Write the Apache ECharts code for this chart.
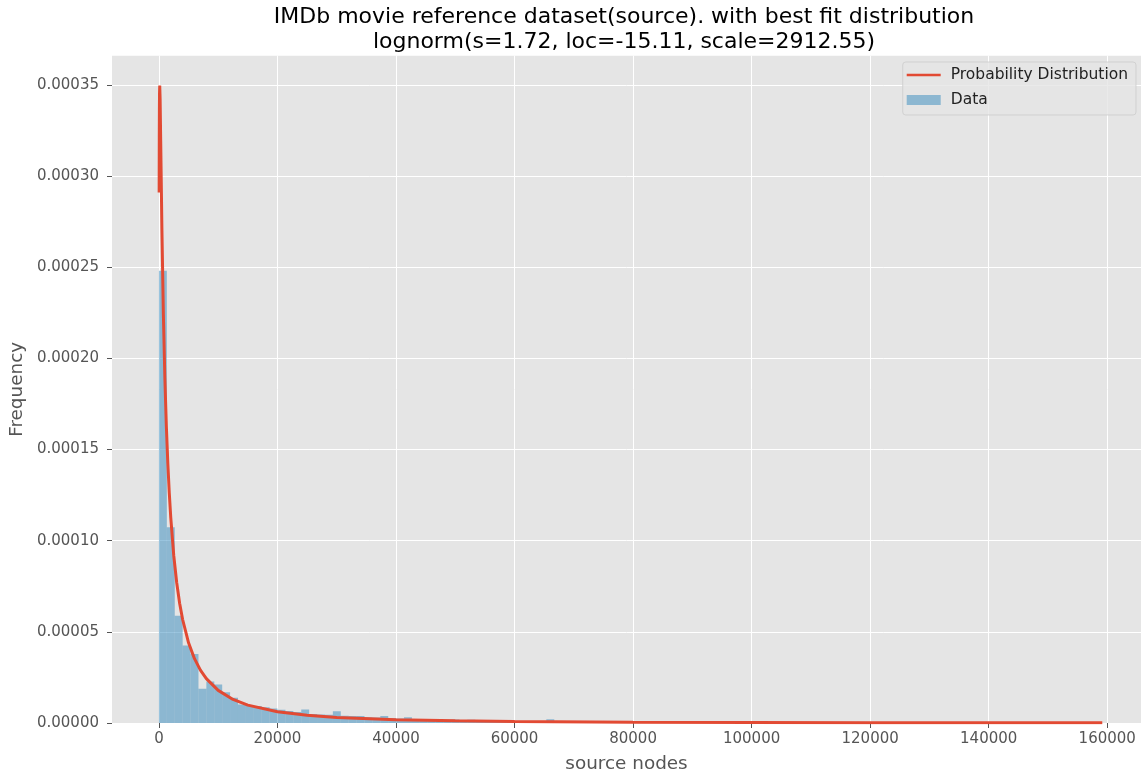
<!DOCTYPE html>
<html><head><meta charset="utf-8">
<script src="https://cdn.jsdelivr.net/npm/echarts@6/dist/echarts.min.js"></script>
<style>html,body{margin:0;padding:0;background:#fff}#c{width:1141px;height:778px}</style>
</head><body><div id="c"></div>
<script>
// ---- data ----
const titleLines = ['IMDb movie reference dataset(source). with best fit distribution',
                    'lognorm(s=1.72, loc=-15.11, scale=2912.55)'];
const binStart = 0;
const binWidth = 1334;
const histValues = [
  0.000248, 0.0001073, 0.0000588, 0.0000425, 0.0000378, 0.0000188, 0.0000228, 0.0000211, 0.0000169, 0.0000139,
  0.0000101, 0.0000096, 0.0000093, 0.0000086, 0.0000079, 0.0000072, 0.0000066, 0.0000061, 0.0000074, 0.0000050,
  0.0000047, 0.0000045, 0.0000064, 0.0000040, 0.0000039, 0.0000038, 0.0000032, 0.0000030, 0.0000038, 0.0000026,
  0.0000025, 0.0000031, 0.0000021, 0.0000020, 0.0000021, 0.0000019, 0.0000018, 0.0000019, 0.0000017, 0.0000018,
  0.0000016, 0.0000017, 0.0000012, 0.0000011, 0.0000012, 0.0000010, 0.0000011, 0.0000009, 0.0000008, 0.0000020
];
const pdfX = [38, 60, 80, 100, 136, 200, 300, 500, 750, 1000, 1250, 1500, 1750, 2000, 2500, 3000, 3500, 4000,
  5000, 6000, 7000, 8000, 10000, 12500, 15000, 20000, 25000, 30000, 40000, 50000, 60000, 80000, 100000,
  120000, 140000, 159165];
const pdfY = [0.000291, 0.0003218, 0.000337, 0.0003452, 0.0003496, 0.0003423, 0.0003191, 0.0002712, 0.0002241,
  0.0001894, 0.0001630, 0.0001424, 0.0001260, 0.0001125, 0.00009189, 0.00007691, 0.00006559, 0.00005677,
  0.00004400, 0.00003528, 0.00002902, 0.00002434, 0.00001790, 0.00001294, 0.000009805, 0.000006185,
  0.000004244, 0.000003081, 0.000001816, 0.000001183, 0.0000008226, 0.0000004534, 0.0000002802,
  0.0000001867, 0.0000001313, 0.0000000974];
const xTicks = [0, 20000, 40000, 60000, 80000, 100000, 120000, 140000, 160000];
const yTicks = [0, 0.00005, 0.0001, 0.00015, 0.0002, 0.00025, 0.0003, 0.00035];
const seriesNames = ['Probability Distribution', 'Data'];
const axisNames = {x: 'source nodes', y: 'Frequency'};

// ---- chart ----
const FONT = 'DejaVu Sans';
const barColor = 'rgba(52,138,189,0.5)';
const lineColor = '#E24A33';
const histData = histValues.map((v, i) => [binStart + i * binWidth, binStart + (i + 1) * binWidth, v]);
const lineData = pdfX.map((x, i) => [x, pdfY[i]]);

const chart = echarts.init(document.getElementById('c'), null, {renderer: 'canvas'});
chart.setOption({
  animation: false,
  backgroundColor: '#ffffff',
  textStyle: {fontFamily: FONT},
  graphic: [{
    type: 'text', x: 624, y: 4.5, z: 100,
    style: {text: titleLines.join('\n'), font: '22px "DejaVu Sans"', fill: '#000', textAlign: 'center',
            textVerticalAlign: 'top', lineHeight: 25}
  }],
  grid: {left: 112, right: 0, top: 55.7, bottom: 55, show: true, backgroundColor: '#E5E5E5', borderWidth: 0, containLabel: false},
  legend: {
    orient: 'vertical', right: 5, top: 62,
    padding: [5, 8, 7, 4], itemGap: 9, itemWidth: 34, itemHeight: 10,
    backgroundColor: 'rgba(229,229,229,0.8)', borderColor: 'rgba(204,204,204,0.8)', borderWidth: 1, borderRadius: 3,
    textStyle: {fontFamily: FONT, fontSize: 15.5, color: '#222', padding: [0, 0, 0, 5]},
    data: [
      {name: seriesNames[0], icon: 'path://M0,0H100V8H0Z', itemStyle: {color: lineColor}},
      {name: seriesNames[1], icon: 'rect', itemStyle: {color: barColor}}
    ]
  },
  xAxis: {
    type: 'value', min: -7918, max: 165700, interval: 20000,
    name: axisNames.x, nameLocation: 'middle', nameGap: 32,
    nameTextStyle: {fontFamily: FONT, fontSize: 18.4, color: '#555'},
    axisLine: {show: false, onZero: false},
    axisTick: {show: true, length: 5, lineStyle: {color: '#555', width: 1}, customValues: xTicks},
    axisLabel: {fontFamily: FONT, fontSize: 15, color: '#555', margin: 9, customValues: xTicks,
                formatter: v => String(v)},
    splitLine: {show: true, lineStyle: {color: '#ffffff', width: 1}}
  },
  yAxis: {
    type: 'value', min: 0, max: 0.000366, interval: 0.00005,
    name: axisNames.y, nameLocation: 'middle', nameGap: 84, nameRotate: 90,
    nameTextStyle: {fontFamily: FONT, fontSize: 18.4, color: '#555'},
    axisLine: {show: false, onZero: false},
    axisTick: {show: true, length: 5, lineStyle: {color: '#555', width: 1}, customValues: yTicks},
    axisLabel: {fontFamily: FONT, fontSize: 15, color: '#555', margin: 13, customValues: yTicks,
                formatter: v => v.toFixed(5)},
    splitLine: {show: true, lineStyle: {color: '#ffffff', width: 1}}
  },
  series: [
    {
      name: seriesNames[1], type: 'custom', data: histData, clip: true,
      encode: {x: [0, 1], y: 2},
      itemStyle: {color: barColor},
      renderItem: function (params, api) {
        const top = api.coord([api.value(0), api.value(2)]);
        const bot = api.coord([api.value(1), 0]);
        return {type: 'rect', shape: {x: top[0], y: top[1], width: bot[0] - top[0], height: bot[1] - top[1]},
                style: {fill: barColor}};
      },
      z: 2
    },
    {
      name: seriesNames[0], type: 'line', data: lineData, showSymbol: false, symbol: 'none', smooth: false,
      lineStyle: {color: lineColor, width: 3}, itemStyle: {color: lineColor}, z: 3, clip: true
    }
  ]
});
</script></body></html>
